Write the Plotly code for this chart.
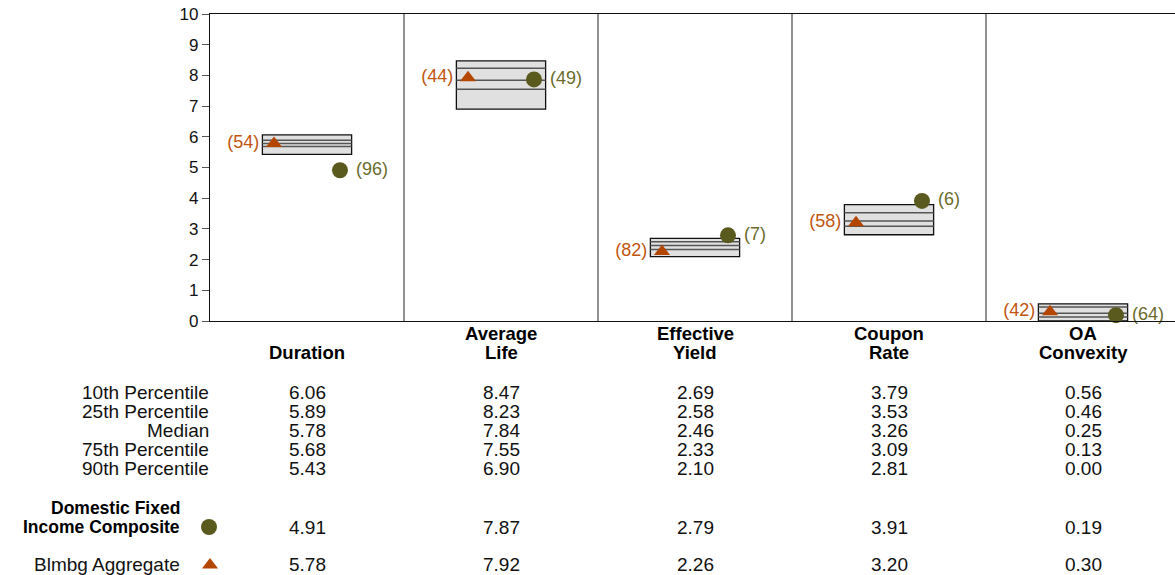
import plotly.graph_objects as go

# ---------------- data ----------------
categories = ["Duration", "Average<br>Life", "Effective<br>Yield", "Coupon<br>Rate", "OA<br>Convexity"]
row_labels = ["10th Percentile", "25th Percentile", "Median", "75th Percentile", "90th Percentile"]
p10 = [6.06, 8.47, 2.69, 3.79, 0.56]
p25 = [5.89, 8.23, 2.58, 3.53, 0.46]
median = [5.78, 7.84, 2.46, 3.26, 0.25]
p75 = [5.68, 7.55, 2.33, 3.09, 0.13]
p90 = [5.43, 6.90, 2.10, 2.81, 0.00]
composite_name = "Domestic Fixed<br>Income Composite"
composite = [4.91, 7.87, 2.79, 3.91, 0.19]
composite_rank = [96, 49, 7, 6, 64]
index_name = "Blmbg Aggregate"
index_vals = [5.78, 7.92, 2.26, 3.20, 0.30]
index_rank = [54, 44, 82, 58, 42]
y_ticks = list(range(0, 11))

# ---------------- style ----------------
FONT = "Liberation Sans, Arial, sans-serif"
W, H = 1175, 575
PLOT_L, PLOT_T, PLOT_B = 210, 14, 321
PANEL_W = 194
CIRCLE_C = "#5a5a1e"
CIRCLE_T = "#6b6b2c"
TRI_C = "#b34700"
TRI_T = "#c0560f"
BOX_FILL = "#e0e0e0"
NB = "\u00a0"

n = len(categories)
centers = [i + 0.5 for i in range(n)]
x_end = (W - PLOT_L) / PANEL_W

fig = go.Figure()

# boxes
shapes = []
for i in range(n):
    shapes.append(dict(type="rect", xref="x", yref="y", x0=i + 0.27, x1=i + 0.73,
                       y0=p90[i], y1=p10[i], fillcolor=BOX_FILL,
                       line=dict(color="#111", width=1.3), layer="below"))
    for v in (p25[i], median[i], p75[i]):
        shapes.append(dict(type="line", xref="x", yref="y", x0=i + 0.27, x1=i + 0.73,
                           y0=v, y1=v, line=dict(color="#555", width=1.5), layer="below"))
# panel separators
for i in range(1, n):
    shapes.append(dict(type="line", xref="x", yref="paper", x0=i, x1=i,
                       y0=(H - PLOT_B) / H, y1=(H - PLOT_T) / H,
                       line=dict(color="#555", width=1.3)))

# markers
fig.add_trace(go.Scatter(
    x=[i + 0.33 for i in range(n)], y=index_vals, mode="markers+text",
    marker=dict(symbol="triangle-up", size=14, color=TRI_C),
    text=[f"({r}){NB}" for r in index_rank], textposition="middle left",
    textfont=dict(family=FONT, size=18, color=TRI_T),
    cliponaxis=False, showlegend=False, hoverinfo="skip"))
fig.add_trace(go.Scatter(
    x=[i + 0.67 for i in range(n)], y=composite, mode="markers+text",
    marker=dict(symbol="circle", size=16, color=CIRCLE_C),
    text=[f"{NB}({r})" for r in composite_rank], textposition="middle right",
    textfont=dict(family=FONT, size=18, color=CIRCLE_T),
    cliponaxis=False, showlegend=False, hoverinfo="skip"))

# legend markers in table (pixel axes)
fig.add_trace(go.Scatter(x=[209], y=[527], xaxis="x2", yaxis="y2", mode="markers",
                         marker=dict(symbol="circle", size=16, color=CIRCLE_C),
                         showlegend=False, hoverinfo="skip", cliponaxis=False))
fig.add_trace(go.Scatter(x=[210], y=[565], xaxis="x2", yaxis="y2", mode="markers",
                         marker=dict(symbol="triangle-up", size=14, color=TRI_C),
                         showlegend=False, hoverinfo="skip", cliponaxis=False))

annotations = []
# category labels
for i, cat in enumerate(categories):
    lines = cat.split("<br>")
    for k, line in enumerate(reversed(lines)):
        annotations.append(dict(x=centers[i], xref="x", y=352 - 19 * k, yref="y2",
                                text=f"<b>{line}</b>", showarrow=False,
                                xanchor="center", yanchor="middle",
                                font=dict(family=FONT, size=18.5, color="#000")))

# table
row_y = [392, 411, 430, 449, 468]
rows = [p10, p25, median, p75, p90]
for r, lab in enumerate(row_labels):
    annotations.append(dict(x=211, xref="x2", y=row_y[r], yref="y2", text=lab,
                            showarrow=False, xanchor="right", yanchor="middle",
                            font=dict(family=FONT, size=19, color="#111")))
    for i in range(n):
        annotations.append(dict(x=centers[i], xref="x", y=row_y[r], yref="y2",
                                text=f"{rows[r][i]:.2f}", showarrow=False,
                                xanchor="center", yanchor="middle",
                                font=dict(family=FONT, size=19, color="#111")))

comp_lines = composite_name.split("<br>")
for k, line in enumerate(reversed(comp_lines)):
    annotations.append(dict(x=182, xref="x2", y=527 - 19 * k, yref="y2",
                            text=f"<b>{line}</b>", showarrow=False,
                            xanchor="right", yanchor="middle",
                            font=dict(family=FONT, size=17.5, color="#000")))
annotations.append(dict(x=182, xref="x2", y=564, yref="y2", text=index_name,
                        showarrow=False, xanchor="right", yanchor="middle",
                        font=dict(family=FONT, size=19, color="#111")))
for i in range(n):
    annotations.append(dict(x=centers[i], xref="x", y=527, yref="y2",
                            text=f"{composite[i]:.2f}", showarrow=False,
                            xanchor="center", yanchor="middle",
                            font=dict(family=FONT, size=19, color="#111")))
    annotations.append(dict(x=centers[i], xref="x", y=564, yref="y2",
                            text=f"{index_vals[i]:.2f}", showarrow=False,
                            xanchor="center", yanchor="middle",
                            font=dict(family=FONT, size=19, color="#111")))

fig.update_layout(
    width=W, height=H,
    margin=dict(l=0, r=0, t=0, b=0, autoexpand=False),
    paper_bgcolor="white", plot_bgcolor="rgba(0,0,0,0)",
    font=dict(family=FONT, color="#111"),
    shapes=shapes, annotations=annotations,
    xaxis=dict(domain=[PLOT_L / W, 1], range=[0, x_end], showgrid=False,
               zeroline=False, showticklabels=False, ticks="",
               showline=True, linecolor="#111", linewidth=1.3, mirror=True,
               automargin=False),
    yaxis=dict(domain=[(H - PLOT_B) / H, (H - PLOT_T) / H], range=[0, 10],
               tickvals=y_ticks, ticks="outside", ticklen=7, tickcolor="#555",
               tickwidth=1.3, showgrid=False, zeroline=False,
               showline=True, linecolor="#111", linewidth=1.3, automargin=False,
               tickfont=dict(family=FONT, size=17, color="#111")),
    xaxis2=dict(domain=[0, 1], range=[0, W], visible=False, anchor="y2", automargin=False),
    yaxis2=dict(domain=[0, 1], range=[H, 0], visible=False, anchor="x2", automargin=False),
)

fig.write_html("out.html", config={"displayModeBar": False},
               post_script="document.body.style.margin='0';")
